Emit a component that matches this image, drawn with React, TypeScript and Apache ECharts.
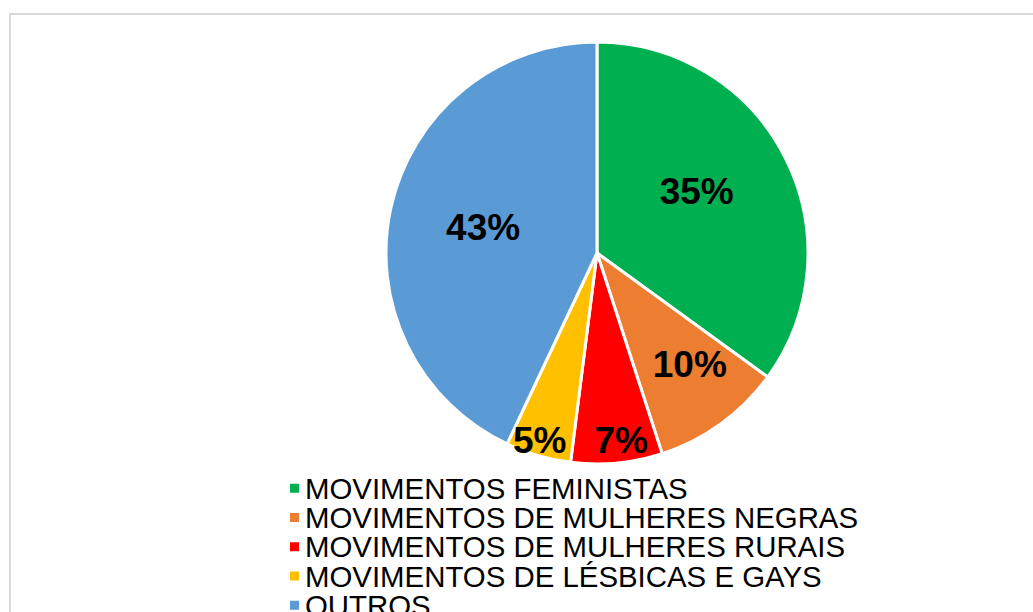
import React, { useEffect, useRef } from "react";
import * as echarts from "echarts";

const categories = [
  "MOVIMENTOS FEMINISTAS",
  "MOVIMENTOS DE MULHERES NEGRAS",
  "MOVIMENTOS DE MULHERES RURAIS",
  "MOVIMENTOS DE LÉSBICAS E GAYS",
  "OUTROS",
];
const values = [35, 10, 7, 5, 43];
const colors = ["#00B050", "#ED7D31", "#FF0000", "#FFC000", "#5B9BD5"];
const labelOffsets = [
  [3, -12],
  [29, 24],
  [14, 79],
  [-27, 83],
  [-8, -2],
];

export default function App() {
  const ref = useRef<HTMLDivElement>(null);
  useEffect(() => {
    if (!ref.current) return;
    const chart = echarts.init(ref.current, null, { renderer: "svg" });
    chart.setOption({
      animation: false,
      backgroundColor: "#ffffff",
      color: colors,
      graphic: [
        {
          type: "rect",
          shape: { x: 10, y: 14, width: 1100, height: 700 },
          style: { fill: "none", stroke: "#d9d9d9", lineWidth: 2 },
          silent: true,
        },
      ],
      legend: {
        orient: "vertical",
        left: 288,
        top: 473.5,
        height: 200,
        padding: 0,
        itemGap: 0,
        itemWidth: 11,
        itemHeight: 11,
        icon: "rect",
        data: categories,
        textStyle: {
          fontFamily: "Liberation Sans, Arial, sans-serif",
          fontSize: 29.4,
          lineHeight: 29.3,
          color: "#000000",
        },
      },
      series: [
        {
          type: "pie",
          center: [597, 253],
          radius: [0, 211],
          startAngle: 90,
          clockwise: true,
          itemStyle: { borderColor: "#ffffff", borderWidth: 3 },
          label: {
            show: true,
            position: "inside",
            formatter: "{c}%",
            fontFamily: "Liberation Sans, Arial, sans-serif",
            fontWeight: "bold",
            fontSize: 37,
            color: "#000000",
          },
          labelLine: { show: false },
          emphasis: { disabled: true },
          labelLayout: (p: any) => ({
            dx: labelOffsets[p.dataIndex][0],
            dy: labelOffsets[p.dataIndex][1],
          }),
          data: categories.map((name, i) => ({ name, value: values[i] })),
        },
      ],
    });
    return () => chart.dispose();
  }, []);
  return (
    <div
      ref={ref}
      style={{ position: "absolute", left: 0, top: 0, width: 1033, height: 612 }}
    />
  );
}
